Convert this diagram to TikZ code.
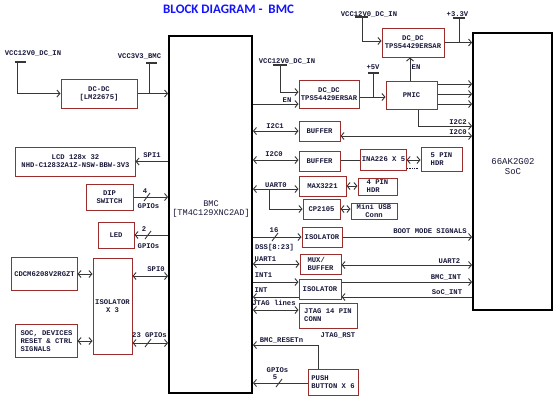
\documentclass[tikz,border=0pt]{standalone}
\usepackage{fontspec}
\setmonofont{Liberation Mono}
\newfontfamily\titlefont{Carlito}
\usepackage{tikz}
\usetikzlibrary{arrows.meta}
\definecolor{boxc}{RGB}{155,45,45}
\definecolor{wirec}{RGB}{55,55,55}
\definecolor{txtc}{RGB}{25,25,60}
\definecolor{titlec}{RGB}{20,20,255}
\newcommand\lblf{\ttfamily\bfseries\fontsize{7.2bp}{8bp}\selectfont}
\newcommand\bmcf{\ttfamily\fontsize{8.6bp}{9.5bp}\selectfont}
\newcommand\socf{\ttfamily\fontsize{9bp}{10bp}\selectfont}
\newcommand\titlef{\titlefont\bfseries\fontsize{13bp}{15bp}\selectfont}

\begin{document}
\begin{tikzpicture}[x=1bp,y=-1bp,
    >={Straight Barb[length=3bp,width=7bp]},
    wire/.style={draw=wirec,line width=0.9bp},
    tbar/.style={draw=wirec,line width=1.4bp},
    blk/.style={draw=boxc,line width=1bp,inner sep=1bp,font=\lblf,text=txtc,align=center},
    big/.style={draw=black,line width=1.8bp,inner sep=0pt},
    lbl/.style={font=\lblf,text=txtc,inner sep=0.5bp,text height=4.2bp,text depth=0bp}]
  \fill[white] (0,0) rectangle (558,402);
  \useasboundingbox (0,0) rectangle (558,402);

  \node[font=\titlef,text=titlec,anchor=base west,inner sep=0pt] (title) at (163,13.5) {BLOCK DIAGRAM -\ \ BMC};

  \node[big,minimum width=83bp,minimum height=357bp] (bmc) at (210.5,214.5) {};
  \node[font=\bmcf,text=txtc,align=center] (bmctext) at (211,209) {BMC\\{[}TM4C129XNC2AD{]}};
  \node[big,minimum width=79bp,minimum height=277bp] (soc) at (512.5,171.5) {};
  \node[font=\socf,text=txtc,align=center] (soctext) at (513,167) {66AK2G02\\SoC};

  \node[blk,minimum width=76bp,minimum height=29bp] (dcdcA) at (99,93.5) {DC-DC\\{[}LM22675{]}};
  \node[blk,minimum width=119bp,minimum height=29bp] (lcd) at (75.5,161.5) {LCD 128x 32\\NHD-C12832A1Z-NSW-BBW-3V3};
  \node[blk,minimum width=47bp,minimum height=26bp] (dip) at (109.5,197) {DIP\\SWITCH};
  \node[blk,minimum width=36bp,minimum height=26bp] (led) at (116,235) {LED};
  \node[blk,minimum width=65bp,minimum height=33bp] (cdcm) at (44.5,274) {CDCM6208V2RGZT};
  \node[blk,minimum width=39bp,minimum height=96bp] (isoA) at (112.5,306) {ISOLATOR\\X 3};
  \node[blk,align=left,minimum width=61bp,minimum height=33bp] (rst) at (46.5,341) {SOC, DEVICES\\RESET \& CTRL\\SIGNALS};

  \node[blk,minimum width=60bp,minimum height=28bp] (dcdcB) at (329,94) {DC\_DC\\TPS54429ERSAR};
  \node[blk,minimum width=51bp,minimum height=28bp] (pmic) at (411.5,95) {PMIC};
  \node[blk,minimum width=62bp,minimum height=29bp] (dcdcC) at (413,42.5) {DC\_DC\\TPS54429ERSAR};
  \node[blk,minimum width=41bp,minimum height=20bp] (bufA) at (319.5,131) {BUFFER};
  \node[blk,minimum width=41bp,minimum height=20bp] (bufB) at (319.5,161) {BUFFER};
  \node[blk,minimum width=45bp,minimum height=21bp] (ina) at (383.5,159.5) {INA226 X 5};
  \node[blk,align=left,minimum width=41bp,minimum height=24bp] (hdrA) at (441.5,159) {5 PIN\\HDR};
  \node[blk,minimum width=47bp,minimum height=20bp] (max) at (322.5,186) {MAX3221};
  \node[blk,align=left,minimum width=39bp,minimum height=17bp] (hdrB) at (377.5,186.5) {4 PIN\\HDR};
  \node[blk,minimum width=37bp,minimum height=20bp] (cp) at (321.5,209) {CP2105};
  \node[blk,minimum width=46bp,minimum height=16bp] (usb) at (374,211) {Mini USB\\Conn};
  \node[blk,minimum width=40bp,minimum height=20bp] (isoB) at (322,237) {ISOLATOR};
  \node[blk,align=left,minimum width=41bp,minimum height=20bp] (mux) at (320.5,264) {MUX/\\BUFFER};
  \node[blk,minimum width=42bp,minimum height=20bp] (isoC) at (320,289) {ISOLATOR};
  \node[blk,align=left,minimum width=58bp,minimum height=25bp] (jtag) at (328,315.5) {JTAG 14 PIN\\CONN};
  \node[blk,align=left,minimum width=50bp,minimum height=26bp] (push) at (333,382) {PUSH\\BUTTON X 6};

  \node[lbl] (vinA) at (33,53) {VCC12V0\_DC\_IN};
  \coordinate (vinAt) at (17,62);
  \draw[tbar] (15,62) -- (26,62);
  \draw[wire,->] (vinAt) |- (dcdcA.west);
  \node[lbl] (vbmc) at (139.5,56) {VCC3V3\_BMC};
  \coordinate (vbmct) at (149,63);
  \draw[tbar] (146,63) -- (157,63);
  \draw[wire] (vbmct) -- (vbmct |- dcdcA.east);
  \draw[wire,->] (dcdcA.east) -- (bmc.west |- dcdcA.east);

  \draw[wire,->] (bmc.west |- lcd.east) -- (lcd.east);
  \node[lbl] (spiA) at (152,155) {SPI1};
  \draw[wire,->] (dip.east) -- (bmc.west |- dip.east);
  \draw[wire] (144,201) -- (150,193);
  \node[lbl] (dipn) at (145,191) {4};
  \node[lbl] (dipg) at (148.5,206) {GPIOs};
  \draw[wire,->] (bmc.west |- led.east) -- (led.east);
  \draw[wire] (145,239) -- (151,231);
  \node[lbl] (ledn) at (144,229) {2};
  \node[lbl] (ledg) at (148.5,246) {GPIOs};

  \draw[wire,<->] (cdcm.east) -- (isoA.west |- cdcm.east);
  \draw[wire,<->] (rst.east) -- (isoA.west |- rst.east);
  \draw[wire,<->] (isoA.east |- 0,276) -- (bmc.west |- 0,276);
  \node[lbl] (spiB) at (156,269) {SPI0};
  \draw[wire,<->] (isoA.east |- 0,343) -- (bmc.west |- 0,343);
  \draw[wire] (145,347) -- (151,339);
  \node[lbl] (gpio23) at (149.5,335) {23 GPIOs};

  \node[lbl] (vinB) at (287,61) {VCC12V0\_DC\_IN};
  \coordinate (vinBt) at (280,65);
  \draw[tbar] (273,65) -- (287,65);
  \draw[wire,->] (vinBt) |- (dcdcB.west |- 0,92);
  \draw[wire,->] (bmc.east |- 0,104) -- (dcdcB.west |- 0,104);
  \node[lbl] (enA) at (287,100) {EN};
  \node[lbl] (v5) at (373,67) {+5V};
  \coordinate (v5t) at (373,73);
  \draw[tbar] (368,73) -- (379,73);
  \draw[wire] (v5t) -- (v5t |- 0,97);
  \draw[wire,->] (dcdcB.east |- 0,97) -- (pmic.west |- 0,97);
  \draw[wire,->] (pmic.north -| 410,0) -- (dcdcC.south -| 410,0);
  \node[lbl] (enB) at (416,67) {EN};
  \node[lbl] (vinC) at (369,14) {VCC12V0\_DC\_IN};
  \coordinate (vinCt) at (362,17);
  \draw[tbar] (355,17) -- (368,17);
  \draw[wire,->] (vinCt) |- (dcdcC.west |- 0,41);
  \node[lbl] (v33) at (457.5,14) {+3.3V};
  \coordinate (v33t) at (459,18);
  \draw[tbar] (453,18) -- (465,18);
  \draw[wire] (v33t) -- (v33t |- dcdcC.east);
  \draw[wire,->] (dcdcC.east) -- (soc.west |- dcdcC.east);
  \foreach \yy in {84,94,104}
    \draw[wire,->] (pmic.east |- 0,\yy) -- (soc.west |- 0,\yy);
  \draw[wire,->] (pmic.south -| 418,0) |- (soc.west |- 0,126);
  \node[lbl] (i2cC) at (458,122.5) {I2C2};
  \draw[wire,<->] (bufA.east |- 0,136) -- (soc.west |- 0,136);
  \node[lbl] (i2cD) at (458,132.5) {I2C0};

  \draw[wire,<->] (bmc.east |- 0,131) -- (bufA.west |- 0,131);
  \node[lbl] (i2cA) at (275,126) {I2C1};
  \draw[wire,<->] (bmc.east |- 0,160) -- (bufB.west |- 0,160);
  \node[lbl] (i2cB) at (274,154.5) {I2C0};
  \draw[wire] (bufB.east |- 0,160) -- (ina.west |- 0,160);
  \draw[wire,<->] (ina.east |- 0,160) -- (hdrA.west |- 0,160);
  \draw[txtc,line width=1bp,dash pattern=on 1bp off 0.7bp] (407,168) -- (418,168);

  \draw[wire,<->] (bmc.east |- 0,189) -- (max.west |- 0,189);
  \node[lbl] (uartA) at (276,185.5) {UART0};
  \coordinate (uartj) at (269,189);
  \draw[wire,->] (uartj) |- (cp.west);
  \draw[wire,<->] (max.east) -- (hdrB.west |- max.east);
  \draw[wire,<->] (cp.east) -- (usb.west |- cp.east);

  \draw[wire,->] (bmc.east |- isoB.west) -- (isoB.west);
  \draw[wire] (272,241) -- (278,233);
  \node[lbl] (dssn) at (274,230) {16};
  \node[lbl] (dss) at (274.5,247) {DSS[8:23]};
  \draw[wire,->] (isoB.east) -- (soc.west |- isoB.east);
  \node[lbl] (boot) at (430,231) {BOOT MODE SIGNALS};

  \draw[wire,<->] (bmc.east |- 0,264) -- (mux.west |- 0,264);
  \node[lbl] (uartB) at (265.5,259) {UART1};
  \draw[wire,<->] (mux.east |- 0,265) -- (soc.west |- 0,265);
  \node[lbl] (uartC) at (449.5,261.5) {UART2};

  \draw[wire,->] (bmc.east |- 0,282) -- (isoC.west |- 0,282);
  \node[lbl] (intA) at (263.5,275.5) {INT1};
  \draw[wire,->] (isoC.east |- 0,282) -- (soc.west |- 0,282);
  \node[lbl] (bmcint) at (446,277.5) {BMC\_INT};
  \draw[wire,->] (soc.west |- 0,297) -- (isoC.east |- 0,297);
  \node[lbl] (socint) at (447,292) {SoC\_INT};
  \draw[wire,->] (isoC.west |- 0,297) -- (bmc.east |- 0,297);
  \node[lbl] (intB) at (261,290) {INT};

  \draw[wire,<->] (bmc.east |- 0,310) -- (jtag.west |- 0,310);
  \node[lbl] (jtagl) at (274,303) {JTAG lines};
  \node[lbl] (jtagrst) at (338,335) {JTAG\_RST};

  \draw[wire,->] (push.north -| 318,0) |- (bmc.east |- 0,345);
  \node[lbl] (bmcrst) at (281.5,340) {BMC\_RESETn};
  \draw[wire,->] (push.west |- 0,383) -- (bmc.east |- 0,383);
  \draw[wire] (276,387) -- (282,379);
  \node[lbl] (pbg) at (277.5,370) {GPIOs};
  \node[lbl] (pbn) at (275,377) {5};
\end{tikzpicture}
\end{document}
